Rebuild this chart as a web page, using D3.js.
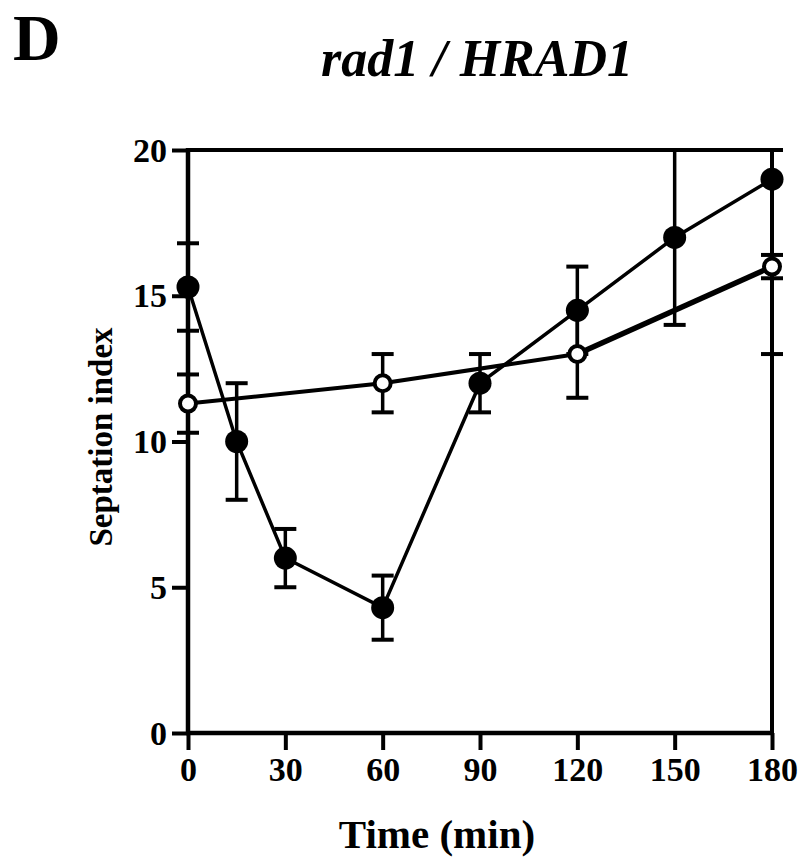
<!DOCTYPE html>
<html>
<head>
<meta charset="utf-8">
<script src="https://cdn.jsdelivr.net/npm/d3@7"></script>
<style>
  body { margin: 0; background: #fff; }
  svg text { font-family: "Liberation Serif", "DejaVu Serif", serif; font-weight: bold; fill: #000; }
</style>
</head>
<body>
<div id="chart"></div>
<script>
// rad1 / HRAD1 septation index over time
const filledTimes = [0, 15, 30, 60, 90, 120, 150, 180];
const filledValues = [15.3, 10.0, 6.0, 4.3, 12.0, 14.5, 17.0, 19.0];
const filledErrors = [1.5, 2.0, 1.0, 1.1, 1.0, 1.5, 3.0, 6.0];

const openTimes = [0, 60, 120, 180];
const openValues = [11.3, 12.0, 13.0, 16.0];
const openErrors = [1.0, 1.0, 1.5, 0.4];

const xTicks = [0, 30, 60, 90, 120, 150, 180];
const yTicks = [0, 5, 10, 15, 20];

const width = 800, height = 860;
const plotLeft = 188, plotRight = 772, plotTop = 150, plotBottom = 733;

const svg = d3.select('#chart').append('svg')
    .attr('width', width)
    .attr('height', height);

const x = d3.scaleLinear().domain([0, 180]).range([plotLeft, plotRight]);
const y = d3.scaleLinear().domain([0, 20]).range([plotBottom, plotTop]);

// frame: top and right lines
svg.append('path')
    .attr('d', `M${plotLeft},${plotTop}H${plotRight}V${plotBottom}`)
    .attr('fill', 'none')
    .attr('stroke', '#000')
    .attr('stroke-width', 4);

// axes
const xAxis = svg.append('g')
    .attr('transform', `translate(0,${plotBottom})`)
    .call(d3.axisBottom(x).tickValues(xTicks).tickSize(17).tickPadding(4));
const yAxis = svg.append('g')
    .attr('transform', `translate(${plotLeft},0)`)
    .call(d3.axisLeft(y).tickValues(yTicks).tickSize(16).tickPadding(5));

[xAxis, yAxis].forEach(g => {
    g.select('.domain').remove();
    g.selectAll('.tick line').attr('stroke-width', 4);
    g.selectAll('.tick text').style('font-size', '34px');
});
svg.append('line')
    .attr('x1', plotLeft - 2).attr('x2', plotRight + 2)
    .attr('y1', plotBottom).attr('y2', plotBottom)
    .attr('stroke', '#000').attr('stroke-width', 4.5);
svg.append('line')
    .attr('x1', plotLeft).attr('x2', plotLeft)
    .attr('y1', plotTop - 2).attr('y2', plotBottom + 2)
    .attr('stroke', '#000').attr('stroke-width', 4.5);
xAxis.selectAll('.tick text').attr('dy', '0.8em');
yAxis.selectAll('.tick text').attr('dy', '0.33em');

// error bars
function drawErrors(times, values, errors) {
    const g = svg.append('g').attr('stroke', '#000').attr('stroke-width', 3.5);
    times.forEach((t, i) => {
        const hi = Math.min(values[i] + errors[i], 20);
        const lo = Math.max(values[i] - errors[i], 0);
        g.append('line')
            .attr('x1', x(t)).attr('x2', x(t))
            .attr('y1', y(lo)).attr('y2', y(hi));
        [hi, lo].forEach(v => {
            g.append('line')
                .attr('x1', x(t) - 11).attr('x2', x(t) + 11)
                .attr('y1', y(v)).attr('y2', y(v))
                .attr('stroke-width', 4);
        });
    });
}

drawErrors(filledTimes, filledValues, filledErrors);
drawErrors(openTimes, openValues, openErrors);

// open series: drawn segment by segment, the last one is heavier in the original
const openPoints = openTimes.map((t, i) => [t, openValues[i]]);
const openSegs = d3.pairs(openPoints);
svg.selectAll('line.open-seg')
    .data(openSegs)
    .enter().append('line')
    .attr('class', 'open-seg')
    .attr('x1', d => x(d[0][0])).attr('y1', d => y(d[0][1]))
    .attr('x2', d => x(d[1][0])).attr('y2', d => y(d[1][1]))
    .attr('stroke', '#000')
    .attr('stroke-width', (d, i) => i === openSegs.length - 1 ? 5.5 : 4);

const line = d3.line().x(d => x(d[0])).y(d => y(d[1]));
svg.append('path')
    .datum(filledTimes.map((t, i) => [t, filledValues[i]]))
    .attr('d', line)
    .attr('fill', 'none')
    .attr('stroke', '#000')
    .attr('stroke-width', 3.5);

svg.selectAll('circle.filled')
    .data(filledTimes.map((t, i) => [t, filledValues[i]]))
    .enter().append('circle')
    .attr('class', 'filled')
    .attr('cx', d => x(d[0]))
    .attr('cy', d => y(d[1]))
    .attr('r', 11.5)
    .attr('fill', '#000');

svg.selectAll('circle.open')
    .data(openPoints)
    .enter().append('circle')
    .attr('class', 'open')
    .attr('cx', d => x(d[0]))
    .attr('cy', d => y(d[1]))
    .attr('r', 8)
    .attr('fill', '#fff')
    .attr('stroke', '#000')
    .attr('stroke-width', 4);

// labels
svg.append('text')
    .attr('x', 13).attr('y', 60)
    .style('font-size', '66px')
    .text('D');

svg.append('text')
    .attr('x', 477).attr('y', 76)
    .attr('text-anchor', 'middle')
    .style('font-size', '52px')
    .style('font-style', 'italic')
    .text('rad1 / HRAD1');

svg.append('text')
    .attr('transform', `translate(112,437) rotate(-90)`)
    .attr('text-anchor', 'middle')
    .style('font-size', '33px')
    .text('Septation index');

svg.append('text')
    .attr('x', 437).attr('y', 848)
    .attr('text-anchor', 'middle')
    .style('font-size', '41px')
    .text('Time (min)');
</script>
</body>
</html>
